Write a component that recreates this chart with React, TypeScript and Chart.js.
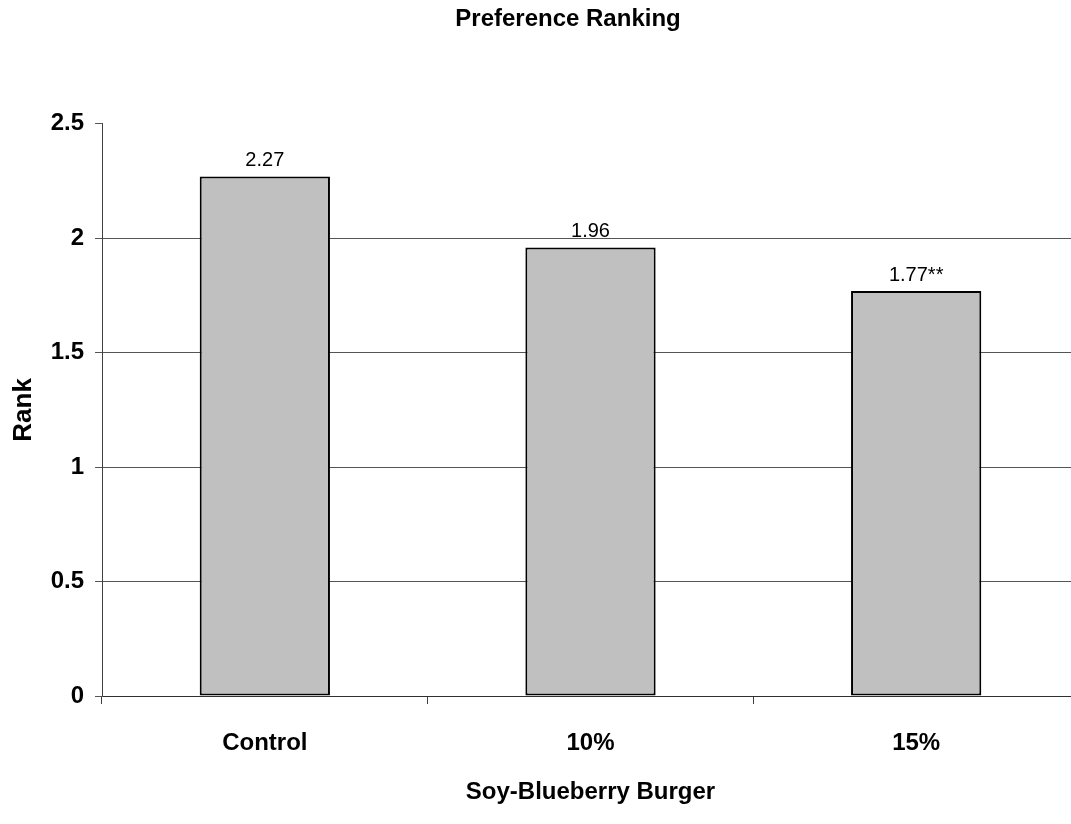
import React, { useEffect, useRef } from "react";
import { Chart, registerables } from "chart.js";

Chart.register(...registerables);

const categories = ["Control", "10%", "15%"];
const rankValues = [2.27, 1.96, 1.77];
const labelSuffixes = ["", "", "**"];
const yTickMax = 2.5;
const yTickStep = 0.5;
const chartTitle = "Preference Ranking";
const xTitle = "Soy-Blueberry Burger";
const yTitle = "Rank";

const FONT = "'Liberation Sans', Arial, Helvetica, sans-serif";

const valueLabelPlugin = {
  id: "valueLabels",
  afterDatasetsDraw(chart: any) {
    const ctx = chart.ctx;
    const meta = chart.getDatasetMeta(0);
    ctx.save();
    ctx.font = `20px ${FONT}`;
    ctx.fillStyle = "#000";
    ctx.textAlign = "center";
    ctx.textBaseline = "alphabetic";
    meta.data.forEach((bar: any, i: number) => {
      const text = rankValues[i].toFixed(2) + labelSuffixes[i];
      ctx.fillText(text, bar.x, bar.y - 10);
    });
    ctx.restore();
  },
};

export default function App() {
  const canvasRef = useRef<HTMLCanvasElement | null>(null);

  useEffect(() => {
    const canvas = canvasRef.current;
    if (!canvas) return;
    const chart = new Chart(canvas, {
      type: "bar",
      data: {
        labels: categories,
        datasets: [
          {
            label: "Rank",
            data: rankValues,
            backgroundColor: "#C0C0C0",
            borderColor: "#000000",
            borderWidth: 2,
            borderSkipped: false,
            categoryPercentage: 1,
            barPercentage: 0.4,
          },
        ],
      },
      options: {
        responsive: false,
        animation: false,
        devicePixelRatio: 1,
        layout: { padding: 0 },
        plugins: {
          legend: { display: false },
          tooltip: { enabled: false },
          title: {
            display: true,
            text: chartTitle,
            color: "#000",
            font: { family: FONT, size: 24, weight: "bold" },
            padding: { top: 5, bottom: 90 },
          },
        },
        scales: {
          x: {
            grid: {
              display: true,
              drawOnChartArea: false,
              drawTicks: true,
              tickLength: 8,
              color: "#404040",
              offset: true,
            },
            border: { display: true, color: "#303030", width: 1 },
            ticks: {
              color: "#000",
              padding: 25,
              font: { family: FONT, size: 24, weight: "bold" },
            },
            title: {
              display: true,
              text: xTitle,
              color: "#000",
              font: { family: FONT, size: 24, weight: "bold" },
              padding: { top: 4, bottom: 17 },
            },
            afterFit(scale: any) {
              scale.height = 128;
            },
          },
          y: {
            min: 0,
            max: yTickMax,
            ticks: {
              stepSize: yTickStep,
              color: "#000",
              padding: 11,
              font: { family: FONT, size: 24, weight: "bold" },
              callback: (value: any) => String(Number(value)),
            },
            grid: {
              tickLength: 7,
              color: (ctx: any) =>
                ctx.tick && ctx.tick.value === yTickMax ? "rgba(0,0,0,0)" : "#555555",
              tickColor: "#555555",
            },
            border: { display: true, color: "#404040", width: 1 },
            title: {
              display: true,
              text: yTitle,
              color: "#000",
              font: { family: FONT, size: 26, weight: "bold" },
              padding: { top: 8, bottom: 4 },
            },
            afterFit(scale: any) {
              scale.width = 102;
            },
          },
          spacer: {
            type: "linear",
            position: "right",
            display: true,
            grid: { display: false, drawTicks: false },
            border: { display: false },
            ticks: { display: false },
            afterFit(scale: any) {
              scale.width = 57;
            },
          },
        },
      },
      plugins: [valueLabelPlugin],
    } as any);
    return () => chart.destroy();
  }, []);

  return (
    <div
      style={{
        position: "fixed",
        left: 0,
        top: 0,
        width: 1071,
        height: 824,
        overflow: "hidden",
        background: "#fff",
      }}
    >
      <canvas
        ref={canvasRef}
        width={1136}
        height={824}
        style={{ width: 1136, height: 824, display: "block" }}
      />
    </div>
  );
}
